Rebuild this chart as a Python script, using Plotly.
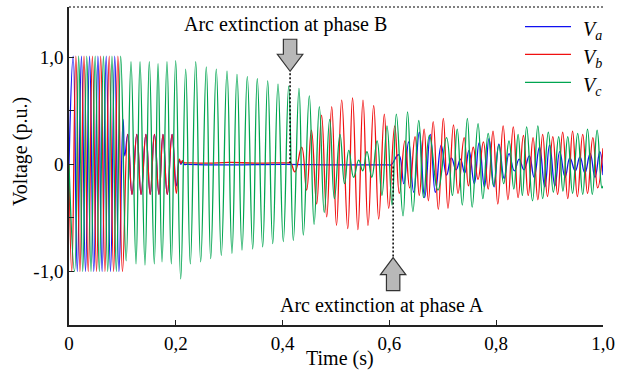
import plotly.graph_objects as go

# ---------------- data (extrema) ----------------
t_a = [0.0, 0.0078, 0.0155, 0.0233, 0.0309, 0.0385, 0.0464, 0.0542, 0.0620, 0.0697,
       0.0777, 0.0857, 0.0935, 0.1013, 0.1045, 0.110, 0.118, 0.127, 0.135, 0.144,
       0.152, 0.160, 0.1685, 0.176, 0.184, 0.193, 0.201, 0.2065, 0.2095, 0.2125,
       0.216, 0.22, 0.30, 0.40, 0.50, 0.59, 0.598, 0.603, 0.6174, 0.627, 0.636, 0.6455, 0.656,
       0.666, 0.6766, 0.686, 0.697, 0.707, 0.716, 0.725, 0.733, 0.741, 0.749,
       0.759, 0.768, 0.778, 0.7865, 0.796, 0.805, 0.815, 0.824, 0.834, 0.843,
       0.852, 0.862, 0.871, 0.881, 0.891, 0.900, 0.910, 0.919, 0.929, 0.938,
       0.948, 0.957, 0.966, 0.976, 0.985, 0.994, 1.0]
v_a = [0.0, 1.01, -1.0, 1.01, -1.0, 1.01, -1.0, 1.01, -1.0, 1.01,
       -1.0, 1.01, -1.0, 0.42, 0.08, 0.28, -0.28, 0.28, -0.28, 0.28,
       -0.28, 0.28, -0.28, 0.28, -0.28, 0.28, -0.20, 0.04, 0.0, 0.025,
       0.0, 0.0, -0.005, 0.0, -0.005, -0.005, -0.005, -0.005, 0.09, -0.18, 0.21, -0.26, 0.30,
       -0.31, 0.28, -0.26, 0.18, -0.10, 0.06, -0.05, 0.05, -0.08, 0.13,
       -0.18, 0.20, -0.21, 0.24, -0.21, 0.19, -0.13, 0.10, -0.06, 0.05,
       -0.05, 0.08, -0.12, 0.16, -0.21, 0.18, -0.20, 0.12, -0.12, 0.06,
       -0.06, 0.07, -0.08, 0.10, -0.12, 0.12, -0.10]

t_b = [0.0, 0.0052, 0.0129, 0.0205, 0.0281, 0.0360, 0.0438, 0.0516, 0.0593, 0.0673,
       0.0753, 0.0835, 0.0916, 0.1001, 0.110, 0.118, 0.127, 0.135, 0.144, 0.152,
       0.160, 0.1685, 0.176, 0.184, 0.193, 0.201, 0.2065, 0.2095, 0.2125, 0.216,
       0.22, 0.26, 0.30, 0.35, 0.40, 0.41, 0.415, 0.423, 0.4357, 0.445, 0.454, 0.4638,
       0.473, 0.4826, 0.492, 0.501, 0.5107, 0.522, 0.531, 0.541, 0.5506, 0.560,
       0.5706, 0.580, 0.5905, 0.5987, 0.610, 0.6186, 0.629, 0.638, 0.648, 0.656,
       0.665, 0.673, 0.682, 0.6916, 0.701, 0.7097, 0.720, 0.7285, 0.740, 0.748,
       0.757, 0.766, 0.776, 0.785, 0.794, 0.803, 0.813, 0.822, 0.832, 0.841,
       0.851, 0.860, 0.869, 0.878, 0.887, 0.896, 0.906, 0.915, 0.9245, 0.934,
       0.943, 0.952, 0.962, 0.971, 0.981, 0.990, 1.0]
v_b = [0.0, -1.0, 1.01, -1.0, 1.01, -1.0, 1.01, -1.0, 1.01, -1.0,
       1.01, -1.0, 1.01, -1.0, 0.28, -0.28, 0.28, -0.28, 0.28, -0.28,
       0.28, -0.28, 0.28, -0.28, 0.28, -0.27, 0.05, 0.01, 0.035, 0.015,
       0.015, 0.012, 0.018, 0.012, 0.015, 0.015, 0.015, -0.07, 0.16, -0.24, 0.32, -0.37,
       0.46, -0.49, 0.54, -0.57, 0.60, -0.60, 0.62, -0.61, 0.60, -0.57,
       0.55, -0.51, 0.47, -0.41, 0.36, -0.27, 0.22, -0.22, 0.26, -0.29,
       0.33, -0.34, 0.40, -0.42, 0.43, -0.41, 0.37, -0.27, 0.25, -0.20,
       0.16, -0.14, 0.21, -0.23, 0.31, -0.37, 0.36, -0.33, 0.35, -0.31,
       0.27, -0.29, 0.25, -0.33, 0.28, -0.30, 0.26, -0.28, 0.30, -0.32,
       0.31, -0.30, 0.28, -0.27, 0.25, -0.22, 0.15]

t_c = [0.0, 0.0104, 0.0181, 0.0257, 0.0333, 0.0412, 0.0490, 0.0568, 0.0645, 0.0725,
       0.0805, 0.0887, 0.0968, 0.1070, 0.1161, 0.1255, 0.1330, 0.1423, 0.1504, 0.1597,
       0.1667, 0.1742, 0.1835, 0.1916, 0.1998, 0.2092, 0.2185, 0.2272, 0.2373, 0.2466,
       0.2571, 0.2654, 0.2758, 0.2852, 0.2959, 0.3052, 0.3146, 0.3240, 0.3339, 0.344,
       0.3526, 0.3627, 0.3721, 0.3815, 0.3914, 0.4013, 0.4114, 0.4201, 0.4307, 0.4388,
       0.450, 0.459, 0.4688, 0.478, 0.4882, 0.497, 0.5075, 0.516, 0.524, 0.533,
       0.5425, 0.550, 0.558, 0.567, 0.577, 0.586, 0.5955, 0.605, 0.613, 0.6255,
       0.634, 0.644, 0.655, 0.664, 0.675, 0.691, 0.707, 0.718, 0.727, 0.7365,
       0.746, 0.755, 0.766, 0.775, 0.785, 0.795, 0.805, 0.814, 0.824, 0.833,
       0.841, 0.849, 0.857, 0.868, 0.878, 0.887, 0.8976, 0.907, 0.917, 0.925,
       0.934, 0.943, 0.9526, 0.962, 0.971, 0.980, 0.989, 0.998, 1.0]
v_c = [0.0, -1.0, 1.01, -1.0, 1.01, -1.0, 1.01, -1.0, 1.01, -1.0,
       1.01, -1.0, 1.01, -0.90, 0.96, -0.93, 0.96, -0.94, 0.96, -0.93,
       0.94, -0.91, 0.96, -0.93, 0.97, -1.07, 0.89, -0.93, 0.96, -0.91,
       0.91, -0.88, 0.89, -0.85, 0.87, -0.83, 0.84, -0.80, 0.82, -0.79,
       0.80, -0.77, 0.78, -0.74, 0.75, -0.72, 0.73, -0.71, 0.71, -0.66,
       0.64, -0.56, 0.54, -0.45, 0.42, -0.32, 0.28, -0.18, 0.13, -0.12,
       0.04, -0.06, 0.12, -0.12, 0.22, -0.29, 0.36, -0.38, 0.47, -0.48,
       0.49, -0.44, 0.41, -0.31, 0.27, -0.24, 0.25, -0.29, 0.33, -0.38,
       0.43, -0.40, 0.38, -0.32, 0.29, -0.20, 0.18, -0.18, 0.22, -0.23,
       0.28, -0.29, 0.35, -0.34, 0.36, -0.32, 0.30, -0.26, 0.26, -0.25,
       0.26, -0.27, 0.29, -0.28, 0.33, -0.28, 0.32, -0.22, -0.20]

series_names = ["V_a", "V_b", "V_c"]
series_colors = ["#1010f0", "#f01010", "#00a550"]

x_tickvals = [0, 0.2, 0.4, 0.6, 0.8, 1.0]
x_ticktext = ["0", "0,2", "0,4", "0,6", "0,8", "1,0"]
y_tickvals = [-1.0, 0.0, 1.0]
y_ticktext = ["-1,0", "0", "1,0"]
y_minor = [-0.5, 0.5]

t_ext_B, v_tip_B = 0.414, 0.87   # arc extinction at phase B (arrow tip)
t_ext_A, v_tip_A = 0.607, -0.87  # arc extinction at phase A (arrow tip)

# ---------------- figure ----------------
FONT = "Liberation Serif, Times New Roman, serif"
fig = go.Figure()
for t, v, name, col in zip([t_a, t_b, t_c], [v_a, v_b, v_c], series_names, series_colors):
    fig.add_trace(go.Scatter(x=t, y=v, mode="lines", name=name, showlegend=False,
                             line=dict(color=col, width=1.3, shape="spline", smoothing=1.3),
                             hoverinfo="skip"))

L, R, T, B = 69, 33, 7, 51
W, H = 636, 376
pw, ph = W - L - R, H - T - B

def px2paper(px, py):
    return (px - L) / pw, (H - B - py) / ph

shapes = []
# top dotted border
shapes.append(dict(type="line", xref="paper", yref="paper", x0=0, x1=1, y0=1, y1=1,
                   line=dict(color="black", width=1, dash="2px,2px")))
# dashed marker lines
shapes.append(dict(type="line", xref="x", yref="y", x0=t_ext_B, x1=t_ext_B, y0=0.01, y1=v_tip_B,
                   line=dict(color="black", width=1.5, dash="2px,2px")))
shapes.append(dict(type="line", xref="x", yref="y", x0=t_ext_A, x1=t_ext_A, y0=-0.02, y1=v_tip_A,
                   line=dict(color="black", width=1.5, dash="2px,2px")))
# block arrows (pixel sized, anchored on tips)
down_arrow = "M0,0 L-12.7,17 L-6.7,17 L-6.7,32 L6.7,32 L6.7,17 L12.7,17 Z"
up_arrow = "M0,0 L12.7,-17 L6.7,-17 L6.7,-33 L-6.7,-33 L-6.7,-17 L-12.7,-17 Z"
for tx, ty, p in [(t_ext_B, v_tip_B, down_arrow), (t_ext_A, v_tip_A, up_arrow)]:
    shapes.append(dict(type="path", xref="x", yref="y", xsizemode="pixel", ysizemode="pixel",
                       xanchor=tx, yanchor=ty, path=p, fillcolor="#b8b8b8",
                       line=dict(color="#333333", width=1.2)))

annotations = []
# legend (manual)
leg_y = [26.7, 54.3, 82.3]
leg_txt = ["<i>V</i><sub><i>a</i></sub>", "<i>V</i><sub><i>b</i></sub>", "<i>V</i><sub><i>c</i></sub>"]
for yy, txt, col in zip(leg_y, leg_txt, series_colors):
    x0, y0 = px2paper(525, yy)
    x1, _ = px2paper(571, yy)
    shapes.append(dict(type="line", xref="paper", yref="paper", x0=x0, x1=x1, y0=y0, y1=y0,
                       line=dict(color=col, width=1.3)))
    xt, yt = px2paper(581, yy + 4)
    annotations.append(dict(xref="paper", yref="paper", x=xt, y=yt, text=txt, showarrow=False,
                            xanchor="left", yanchor="middle", font=dict(family=FONT, size=20, color="black")))

xb, yb = px2paper(285.5, 25)
annotations.append(dict(xref="paper", yref="paper", x=xb, y=yb, text="Arc extinction at phase B",
                        showarrow=False, xanchor="center", yanchor="middle",
                        font=dict(family=FONT, size=20, color="black")))
xa_, ya_ = px2paper(382, 305)
annotations.append(dict(xref="paper", yref="paper", x=xa_, y=ya_, text="Arc extinction at phase A",
                        showarrow=False, xanchor="center", yanchor="middle",
                        font=dict(family=FONT, size=20, color="black")))
xt, yt = px2paper(340, 358)
annotations.append(dict(xref="paper", yref="paper", x=xt, y=yt, text="Time (s)", showarrow=False,
                        xanchor="center", yanchor="middle", font=dict(family=FONT, size=20, color="black")))
xv, yv = px2paper(20, 152)
annotations.append(dict(xref="paper", yref="paper", x=xv, y=yv, text="Voltage (p.u.)", showarrow=False,
                        textangle=-90, xanchor="center", yanchor="middle",
                        font=dict(family=FONT, size=20, color="black")))

fig.update_layout(
    width=W, height=H, margin=dict(l=L, r=R, t=T, b=B),
    paper_bgcolor="white", plot_bgcolor="white",
    shapes=shapes, annotations=annotations, showlegend=False,
    xaxis=dict(range=[0, 1.0], showline=True, linecolor="#222222", linewidth=1.5,
               ticks="inside", ticklen=5, tickcolor="#222222", tickwidth=1.2,
               tickvals=x_tickvals, ticktext=x_ticktext, showgrid=False, zeroline=False,
               tickfont=dict(family=FONT, size=19, color="black")),
    yaxis=dict(range=[-1.5, 1.47], showline=True, linecolor="#222222", linewidth=1.5,
               ticks="inside", ticklen=5, tickcolor="#222222", tickwidth=1.2,
               tickvals=y_tickvals, ticktext=y_ticktext, showgrid=False, zeroline=False,
               minor=dict(tickvals=y_minor, ticks="inside", ticklen=5, tickcolor="#222222"),
               tickfont=dict(family=FONT, size=19, color="black")),
)

fig.write_html("out.html", config={"displayModeBar": False},
               post_script="document.body.style.margin='0px';document.body.style.overflow='hidden';")
